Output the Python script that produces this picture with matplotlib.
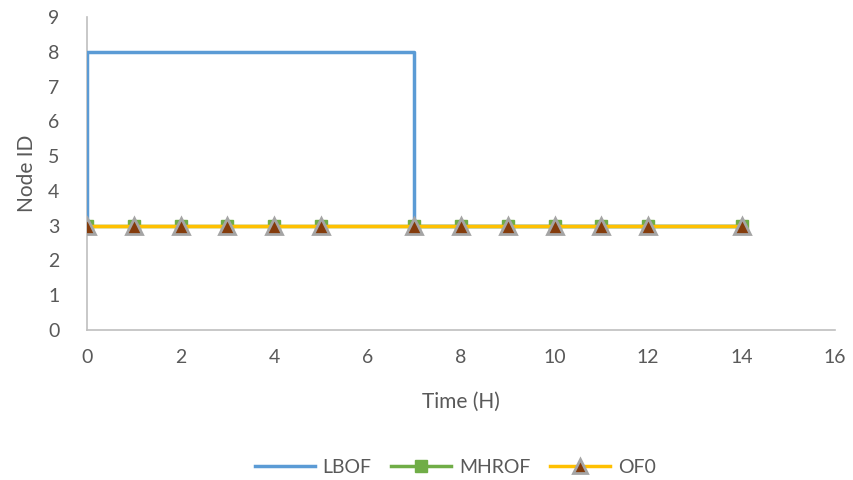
import matplotlib.pyplot as plt
from matplotlib.lines import Line2D

# data
lbof_x = [0, 0, 7, 7, 14]
lbof_y = [3, 8, 8, 3, 3]
time_h = [0, 1, 2, 3, 4, 5, 7, 8, 9, 10, 11, 12, 14]
mhrof = [3] * len(time_h)
of0 = [3] * len(time_h)

plt.rcParams['font.family'] = ['Lato', 'DejaVu Sans']
txt = '#595959'

fig = plt.figure(figsize=(8.54, 4.8), dpi=100)
ax = fig.add_axes([0.102, 0.3125, 0.876, 0.652])

ax.plot(lbof_x, lbof_y, color='#5b9bd5', lw=2.5, zorder=3)
ax.plot(time_h, mhrof, color='#70ad47', lw=2.5, marker='s', ms=9,
        mfc='#70ad47', mec='#70ad47', zorder=4)
ax.plot(time_h, of0, color='#ffc000', lw=2.5, marker='^', ms=11,
        mfc='#843c0c', mec='#a5a5a5', mew=2, zorder=5)

ax.set_xlim(0, 16)
ax.set_ylim(0, 9)
ax.set_xticks(range(0, 17, 2))
ax.set_yticks(range(0, 10))
for s in ['top', 'right']:
    ax.spines[s].set_visible(False)
for s in ['left', 'bottom']:
    ax.spines[s].set_color('#bfbfbf')
    ax.spines[s].set_linewidth(1.2)
ax.tick_params(length=0, labelsize=14, colors=txt)
ax.tick_params(axis='x', pad=14)
ax.tick_params(axis='y', pad=20)
ax.set_xlabel('Time (H)', fontsize=15, color=txt, labelpad=18)
ax.set_ylabel('Node ID', fontsize=15, color=txt, labelpad=8)

handles = [
    Line2D([], [], color='#5b9bd5', lw=2.5),
    Line2D([], [], color='#70ad47', lw=2.5, marker='s', ms=8),
    Line2D([], [], color='#ffc000', lw=2.5, marker='^', ms=10, mfc='#843c0c', mec='#a5a5a5', mew=2),
]
fig.legend(handles, ['LBOF', 'MHROF', 'OF0'], loc='center', bbox_to_anchor=(0.533, 0.027),
           ncol=3, frameon=False, fontsize=14, labelcolor=txt, handlelength=3.1,
           columnspacing=1.0, handletextpad=0.4)

fig.savefig('out.png', dpi=100)
